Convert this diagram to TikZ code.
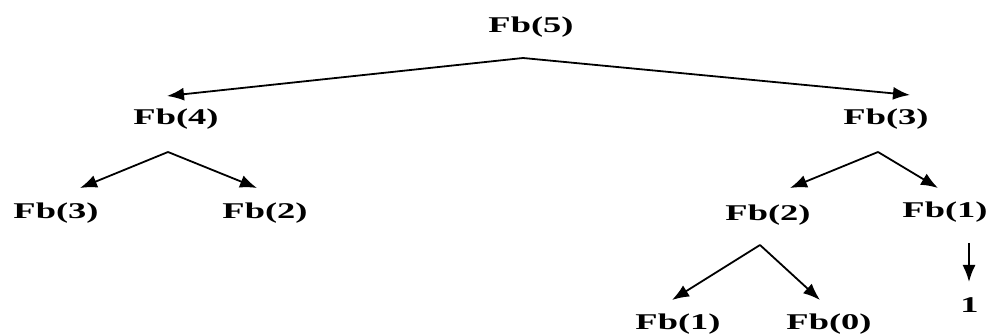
\documentclass[tikz,border=0pt]{standalone}
\usepackage{fontspec}
\setmainfont[FakeStretch=1.62]{Liberation Serif}
\usetikzlibrary{arrows.meta}
\begin{document}
\begin{tikzpicture}[x=1pt,y=-1pt,
  fb/.style={inner sep=0pt,font=\fontsize{22.5}{24}\selectfont\bfseries},
  conn/.style={line width=1.8pt,-{Latex[length=17pt,width=13pt]}}]
\useasboundingbox (0,0) rectangle (991,336);
% nodes
\node[fb] (n5) at (531,27) {Fb(5)};
\node[fb] (n4) at (176,119) {Fb(4)};
\node[fb] (n3r) at (886,119) {Fb(3)};
\node[fb] (n3l) at (56,213) {Fb(3)};
\node[fb] (n2l) at (265,213) {Fb(2)};
\node[fb] (n2r) at (768,215) {Fb(2)};
\node[fb] (n1r) at (945,212) {Fb(1)};
\node[fb] (n1b) at (678,324) {Fb(1)};
\node[fb] (n0) at (829,324) {Fb(0)};
\node[fb] (one) at (969.5,305) {1};
% apex / tip coordinates
\coordinate (a5) at (523,58);
\coordinate (t4) at (167,96);
\coordinate (t3r) at (910,95);
\coordinate (a4) at (168,152);
\coordinate (t3l) at (80,188);
\coordinate (t2l) at (257,188);
\coordinate (a3r) at (878,152);
\coordinate (t2r) at (790,188);
\coordinate (t1r) at (938,188);
\coordinate (a2r) at (760,245);
\coordinate (t1b) at (672,300);
\coordinate (t0) at (820,300);
\coordinate (a1r) at (969,243);
\coordinate (t1) at (969,282);
% connectors
\draw[conn] (a5) -- (t4);
\draw[conn] (a5) -- (t3r);
\draw[conn] (a4) -- (t3l);
\draw[conn] (a4) -- (t2l);
\draw[conn] (a3r) -- (t2r);
\draw[conn] (a3r) -- (t1r);
\draw[conn] (a2r) -- (t1b);
\draw[conn] (a2r) -- (t0);
\draw[conn] (a1r) -- (t1);
\end{tikzpicture}
\end{document}
